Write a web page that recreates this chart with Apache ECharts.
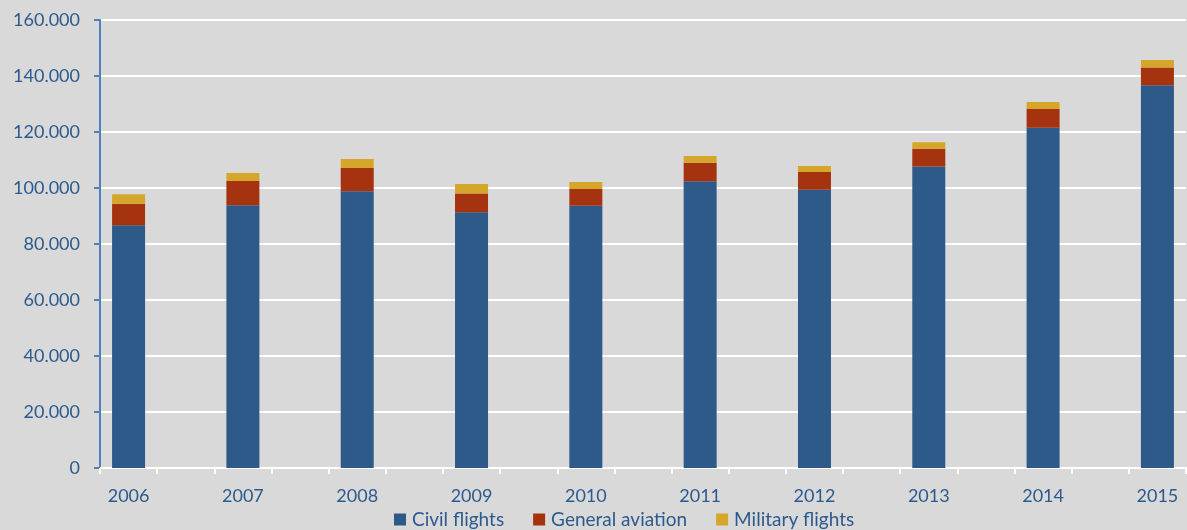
<!DOCTYPE html>
<html>
<head>
<meta charset="utf-8">
<script src="https://cdn.jsdelivr.net/npm/echarts@6/dist/echarts.min.js"></script>
<style>
html,body{margin:0;padding:0;background:#d9d9d9;}
#chart{width:1187px;height:530px;}
</style>
</head>
<body>
<div id="chart"></div>
<script>
const years = ['2006','2007','2008','2009','2010','2011','2012','2013','2014','2015'];
const civilFlights = [86700, 93800, 98800, 91300, 93700, 102400, 99400, 107700, 121500, 136700];
const generalAviation = [7700, 8700, 8300, 6700, 5900, 6600, 6300, 6300, 6700, 6300];
const militaryFlights = [3400, 2900, 3300, 3400, 2500, 2400, 2200, 2300, 2500, 2700];
const yTicks = [0, 20000, 40000, 60000, 80000, 100000, 120000, 140000, 160000];

// interleave empty spacer categories between the years (as in the original chart)
function spaced(arr, filler) {
  const out = [];
  arr.forEach((v, i) => { out.push(v); if (i < arr.length - 1) out.push(filler); });
  return out;
}
const cats = spaced(years, '');
const textColor = '#2c5a8e';
const font = 'Lato';

const chart = echarts.init(document.getElementById('chart'));
chart.setOption({
  backgroundColor: '#d9d9d9',
  animation: false,
  textStyle: { fontFamily: font },
  grid: { left: 100, right: 1, top: 20, bottom: 62 },
  legend: {
    data: ['Civil flights', 'General aviation', 'Military flights'],
    left: 389, top: 505,
    itemWidth: 12, itemHeight: 12, itemGap: 29,
    icon: 'rect',
    textStyle: { color: textColor, fontSize: 19, fontFamily: font, padding: [0,0,0,1] }
  },
  xAxis: {
    type: 'category',
    data: cats,
    axisLine: { lineStyle: { color: '#ffffff', width: 2 } },
    axisTick: { show: true, interval: 0, length: 6, lineStyle: { color: '#ffffff', width: 2 } },
    axisLabel: { interval: 0, color: textColor, fontSize: 18, margin: 19, fontFamily: font }
  },
  yAxis: {
    type: 'value',
    min: yTicks[0], max: yTicks[yTicks.length - 1], interval: yTicks[1] - yTicks[0],
    axisLine: { show: true, lineStyle: { color: '#4f81bd', width: 2 } },
    axisTick: { show: true, length: 6, lineStyle: { color: '#4f81bd', width: 2 } },
    splitLine: { lineStyle: { color: '#ffffff', width: 2 } },
    axisLabel: {
      color: textColor, fontSize: 18, margin: 20, fontFamily: font,
      formatter: v => v === 0 ? '0' : String(v).replace(/\B(?=(\d{3})+(?!\d))/g, '.')
    }
  },
  series: [
    { name: 'Civil flights', type: 'bar', stack: 's', barWidth: 33,
      itemStyle: { color: '#2e5a8a' }, data: spaced(civilFlights, null) },
    { name: 'General aviation', type: 'bar', stack: 's', barWidth: 33,
      itemStyle: { color: '#a5330f' }, data: spaced(generalAviation, null) },
    { name: 'Military flights', type: 'bar', stack: 's', barWidth: 33,
      itemStyle: { color: '#d4a72b' }, data: spaced(militaryFlights, null) }
  ]
});
</script>
</body>
</html>
